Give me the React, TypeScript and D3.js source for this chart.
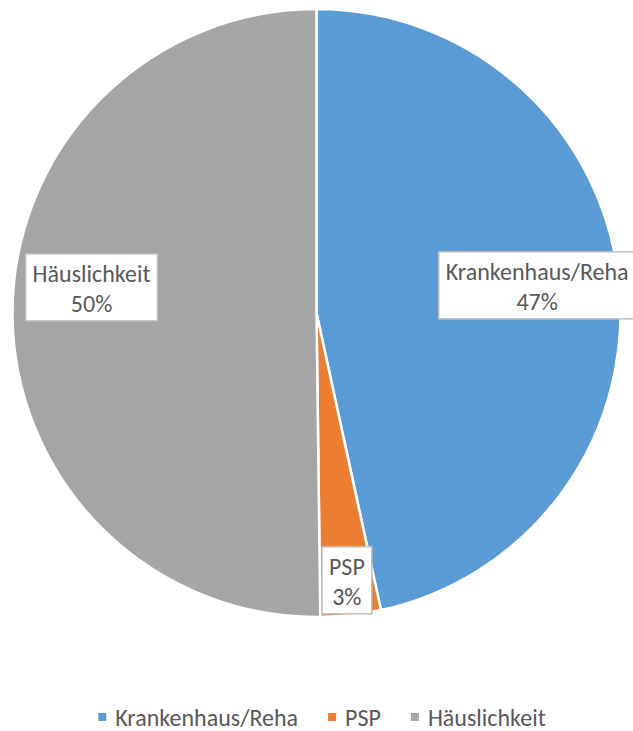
import React, { useEffect, useRef } from "react";
import * as d3 from "d3";

const categories = ["Krankenhaus/Reha", "PSP", "Häuslichkeit"];
const values = [46.6, 3.2, 50.2];
const percentLabels = ["47%", "3%", "50%"];
const colors = ["#5B9BD5", "#ED7D31", "#A5A5A5"];

const W = 633;
const H = 731;
const FONT = "Carlito, 'Open Sans', sans-serif";
const FS = 24;
const TEXT = "#595959";

export default function App() {
  const ref = useRef<SVGSVGElement>(null);

  useEffect(() => {
    const svg = d3.select(ref.current);
    svg.selectAll("*").remove();

    const cx = 316.5;
    const cy = 313;
    const R = 304;

    const pie = d3.pie<number>().sort(null).value((d) => d)(values);
    const arc = d3.arc<d3.PieArcDatum<number>>().innerRadius(0).outerRadius(R);

    const g = svg.append("g").attr("transform", `translate(${cx},${cy})`);
    g.selectAll("path")
      .data(pie)
      .join("path")
      .attr("d", arc as any)
      .attr("fill", (_, i) => colors[i])
      .attr("stroke", "#fff")
      .attr("stroke-width", 2.5)
      .attr("stroke-linejoin", "round");

    // data labels
    const labelRadius = [0.73, 0.885, 0.74];
    const labelDy = [-4, 0, -27];
    pie.forEach((p, i) => {
      const a = (p.startAngle + p.endAngle) / 2;
      const r = R * labelRadius[i];
      const x = Math.sin(a) * r;
      const y = -Math.cos(a) * r + labelDy[i];
      const lg = g.append("g").attr("transform", `translate(${x},${y})`);
      const rect = lg.append("rect");
      const t1 = lg
        .append("text")
        .attr("text-anchor", "middle")
        .attr("y", -5.5)
        .attr("font-family", FONT)
        .attr("font-size", FS)
        .attr("fill", TEXT)
        .text(categories[i]);
      const t2 = lg
        .append("text")
        .attr("text-anchor", "middle")
        .attr("y", 24.5)
        .attr("font-family", FONT)
        .attr("font-size", FS)
        .attr("fill", TEXT)
        .text(percentLabels[i]);
      const w1 = (t1.node() as SVGTextElement).getComputedTextLength();
      const w2 = (t2.node() as SVGTextElement).getComputedTextLength();
      const bw = Math.max(w1, w2) + 14;
      rect
        .attr("x", -bw / 2)
        .attr("y", -33.5)
        .attr("width", bw)
        .attr("height", 67)
        .attr("fill", "#fff")
        .attr("stroke", "#BFBFBF")
        .attr("stroke-width", 1.5);
    });

    // legend
    const lgd = svg.append("g");
    const items: { g: any; w: number }[] = [];
    categories.forEach((c, i) => {
      const ig = lgd.append("g");
      ig.append("rect")
        .attr("x", 0)
        .attr("y", -13)
        .attr("width", 8)
        .attr("height", 8)
        .attr("fill", colors[i]);
      const t = ig
        .append("text")
        .attr("x", 17)
        .attr("y", 0)
        .attr("font-family", FONT)
        .attr("font-size", FS)
        .attr("fill", TEXT)
        .text(c);
      const w = 17 + (t.node() as SVGTextElement).getComputedTextLength();
      items.push({ g: ig, w });
    });
    const gap = 30;
    const total = items.reduce((s, it) => s + it.w, 0) + gap * (items.length - 1);
    let x0 = 322 - total / 2;
    items.forEach((it) => {
      it.g.attr("transform", `translate(${x0},726)`);
      x0 += it.w + gap;
    });
  }, []);

  return (
    <svg
      ref={ref}
      width={W}
      height={H}
      style={{ position: "absolute", left: 0, top: 0, background: "#fff" }}
    />
  );
}
